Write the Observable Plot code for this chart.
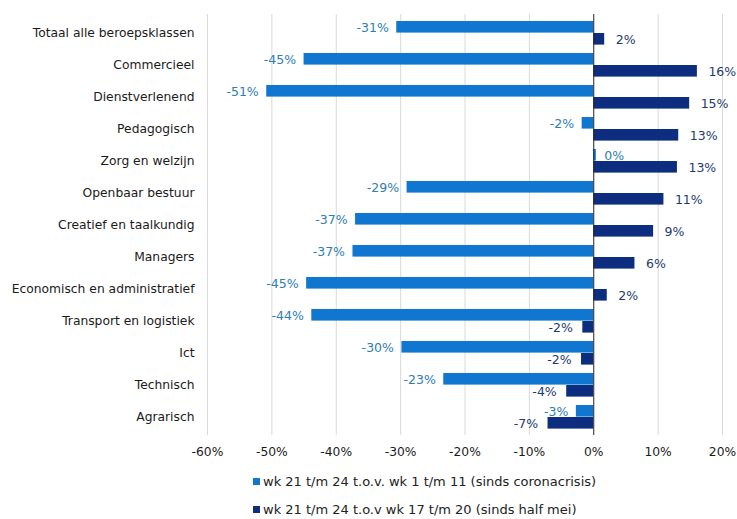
<!DOCTYPE html>
<html>
<head>
<meta charset="utf-8">
<script src="https://cdn.jsdelivr.net/npm/d3@7"></script>
<script src="https://cdn.jsdelivr.net/npm/@observablehq/plot@0.6"></script>
<style>
  html, body { margin: 0; padding: 0; background: #fff; }
  body { width: 737px; height: 519px; overflow: hidden; font-family: "DejaVu Sans", Verdana, sans-serif; }
  #legend { position: relative; height: 54px; font-size: 13px; color: #222; }
  .item { position: absolute; left: 253px; display: flex; align-items: center; white-space: nowrap; }
  .sw { width: 7px; height: 7px; margin-right: 3px; }
</style>
</head>
<body>
<div id="chart"></div>
<div id="legend"></div>
<script>
const categories = [
  "Totaal alle beroepsklassen", "Commercieel", "Dienstverlenend", "Pedagogisch",
  "Zorg en welzijn", "Openbaar bestuur", "Creatief en taalkundig", "Managers",
  "Economisch en administratief", "Transport en logistiek", "Ict", "Technisch", "Agrarisch"
];
const seriesNames = [
  "wk 21 t/m 24 t.o.v. wk 1 t/m 11 (sinds coronacrisis)",
  "wk 21 t/m 24 t.o.v wk 17 t/m 20 (sinds half mei)"
];
const sinceCorona = [-30.6, -45.0, -50.8, -1.8, 0.4, -29.0, -37.0, -37.4, -44.6, -43.8, -29.8, -23.3, -2.7];
const sinceMidMay = [1.7, 16.1, 14.9, 13.2, 13.0, 10.9, 9.3, 6.4, 2.1, -1.7, -1.9, -4.2, -7.1];
const xTicks = [-60, -50, -40, -30, -20, -10, 0, 10, 20];
const colors = ["#0f77cf", "#0d2e7f"];
const labelColors = ["#2e7db5", "#1d3a72"];

const light = categories.map((c, i) => ({cat: c, v: sinceCorona[i]}));
const dark = categories.map((c, i) => ({cat: c, v: sinceMidMay[i]}));
const fmt = d => Math.round(d.v) + "%";
const neg = d => d.v < 0;
const pos = d => d.v >= 0;

const chart = Plot.plot({
  width: 737,
  height: 465,
  marginLeft: 207,
  marginRight: 15,
  marginTop: 14,
  marginBottom: 30,
  style: {fontFamily: "DejaVu Sans, Verdana, sans-serif", fontSize: "12.3px", color: "#1a1a1a", background: "#fff"},
  x: {domain: [-60, 20], ticks: xTicks, tickFormat: d => d + "%", tickSize: 0, tickPadding: 12, label: null},
  y: {domain: categories, padding: 0, tickSize: 0, tickPadding: 13, label: null},
  marks: [
    Plot.ruleX(xTicks.filter(d => d !== 0), {stroke: "#d9d9d9", strokeWidth: 1}),
    Plot.barX(light, {x: "v", y: "cat", fill: colors[0], insetTop: 4, insetBottom: 16.4}),
    Plot.barX(dark, {x: "v", y: "cat", fill: colors[1], insetTop: 16, insetBottom: 4.4}),
    Plot.ruleX([0], {stroke: "#222", strokeWidth: 1}),
    Plot.text(light, {filter: neg, x: "v", y: "cat", text: fmt, dy: -6, dx: -8, textAnchor: "end", fill: labelColors[0], fontSize: 12.5}),
    Plot.text(light, {filter: pos, x: "v", y: "cat", text: fmt, dy: -6, dx: 8, textAnchor: "start", fill: labelColors[0], fontSize: 12.5}),
    Plot.text(dark, {filter: neg, x: "v", y: "cat", text: fmt, dy: 6, dx: -10, textAnchor: "end", fill: labelColors[1], fontSize: 12.5}),
    Plot.text(dark, {filter: pos, x: "v", y: "cat", text: fmt, dy: 6, dx: 11, textAnchor: "start", fill: labelColors[1], fontSize: 12.5})
  ]
});
document.getElementById("chart").appendChild(chart);

const legend = document.getElementById("legend");
seriesNames.forEach((name, i) => {
  const item = document.createElement("div");
  item.className = "item";
  item.style.top = (i * 28 + 9) + "px";
  const sw = document.createElement("span");
  sw.className = "sw";
  sw.style.background = colors[i];
  const tx = document.createElement("span");
  tx.textContent = name;
  item.appendChild(sw); item.appendChild(tx);
  legend.appendChild(item);
});
</script>
</body>
</html>
